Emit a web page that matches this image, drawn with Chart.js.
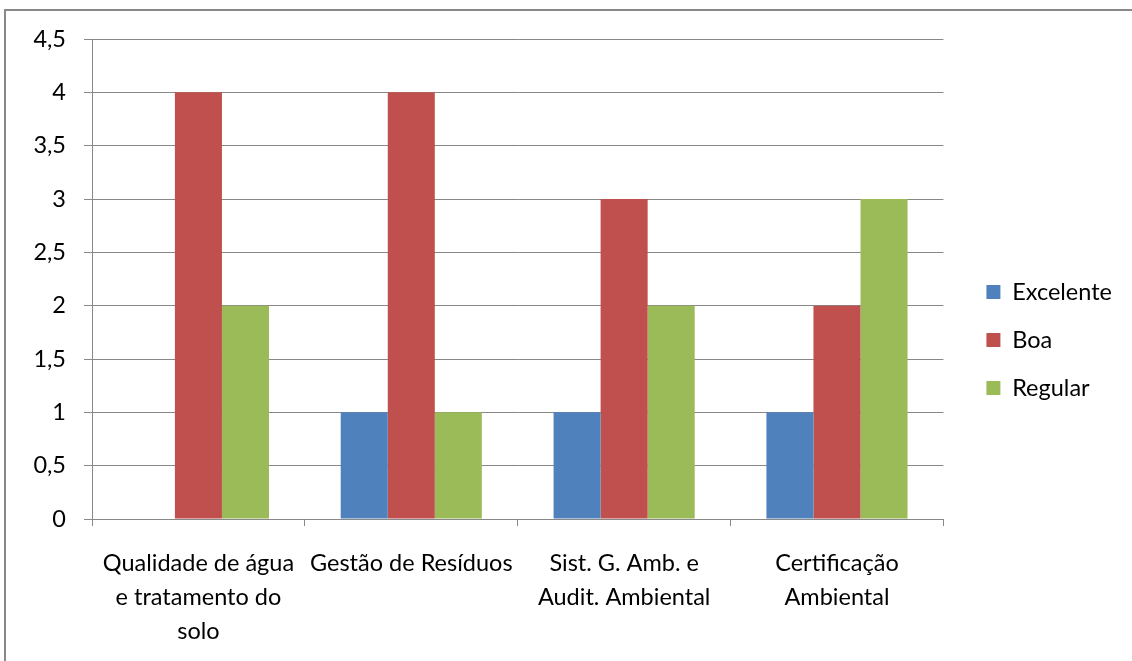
<!DOCTYPE html>
<html>
<head>
<meta charset="utf-8">
<script src="https://cdn.jsdelivr.net/npm/chart.js@4/dist/chart.umd.min.js"></script>
<style>
  body { margin: 0; background: #fff; overflow: hidden; }
  #frame { position: absolute; left: 4px; top: 9px; width: 1200px; height: 700px;
           border-left: 2px solid #898989; border-top: 2px solid #898989; }
  #myChart { position: absolute; left: 0; top: 0; }
</style>
</head>
<body>
<div id="frame"></div>
<canvas id="myChart" width="1132" height="661"></canvas>
<script>
const categories = [
  ["Qualidade de água", "e tratamento do", "solo"],
  ["Gestão de Resíduos"],
  ["Sist. G. Amb. e", "Audit. Ambiental"],
  ["Certificação", "Ambiental"]
]
const seriesNames = ["Excelente", "Boa", "Regular"]
const excelente = [0, 1, 1, 1]
const boa = [4, 4, 3, 2]
const regular = [2, 1, 2, 3]
const yTickLabels = ["0", "0,5", "1", "1,5", "2", "2,5", "3", "3,5", "4", "4,5"]
const barColors = ["#4F81BD", "#C0504D", "#9BBB59"]

const gridColor = "#888888"
const fontFamily = "Lato, 'Open Sans', sans-serif"
const fontSize = 23.5

new Chart("myChart", {
  type: "bar",
  data: {
    labels: categories,
    datasets: [
      { label: seriesNames[0], data: excelente, backgroundColor: barColors[0] },
      { label: seriesNames[1], data: boa, backgroundColor: barColors[1] },
      { label: seriesNames[2], data: regular, backgroundColor: barColors[2] }
    ]
  },
  options: {
    responsive: false,
    animation: false,
    layout: { padding: { left: 0, top: 39, right: 10, bottom: 20 } },
    datasets: { bar: { barPercentage: 1, categoryPercentage: 0.663, borderWidth: 0 } },
    plugins: {
      tooltip: { enabled: false },
      legend: {
        position: "right",
        labels: {
          boxWidth: 14, boxHeight: 14, padding: 24.5, color: "#000",
          font: { family: fontFamily, size: fontSize }
        }
      }
    },
    scales: {
      x: {
        offset: true,
        grid: { offset: true, drawOnChartArea: false, drawTicks: true, tickLength: 7, color: gridColor },
        border: { display: true, color: gridColor },
        ticks: { color: "#000", padding: 20, maxRotation: 0, autoSkip: false,
                 font: { family: fontFamily, size: fontSize, lineHeight: 1.45 } },
        afterFit(s) { s.height = 122 }
      },
      y: {
        min: 0, max: 4.5,
        grid: { color: gridColor, tickLength: 8 },
        border: { display: true, color: gridColor },
        ticks: {
          stepSize: 0.5, color: "#000", padding: 18,
          font: { family: fontFamily, size: fontSize },
          callback: (v, i) => yTickLabels[i]
        },
        afterFit(s) { s.width = 92 }
      },
      // empty space between the plot and the legend
      gap: {
        position: "right",
        display: true,
        grid: { display: false },
        border: { display: false },
        ticks: { display: false },
        afterFit(s) { s.width = 18.5 }
      }
    }
  }
})
</script>
</body>
</html>
